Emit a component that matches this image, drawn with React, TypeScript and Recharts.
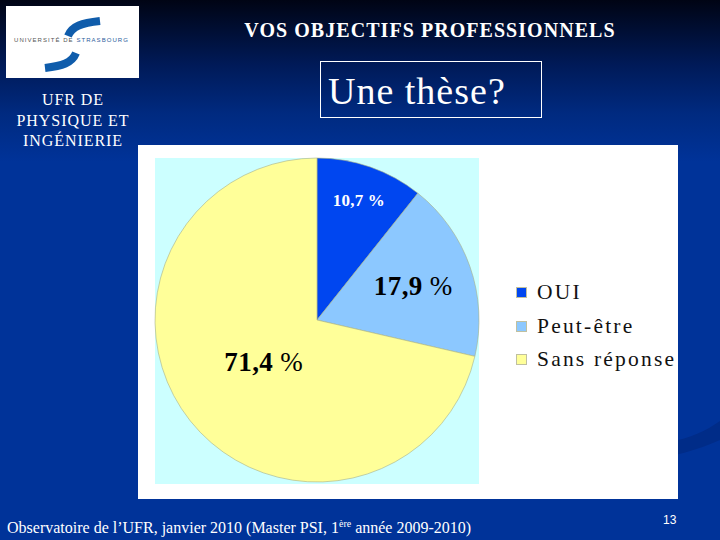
import { Legend, Pie, PieChart } from "recharts";

const categories = ["OUI", "Peut-être", "Sans réponse"];
const shares = [10.7, 17.9, 71.4];
const shareLabels = ["10,7", "17,9", "71,4"];
const sliceColors = ["#0046f0", "#8cc8ff", "#ffff99"];

const labelRadius = [127, 102, 68];
const labelSize = [17, 27, 27];
const labelColor = ["#fff", "#000", "#000"];

const data = categories.map((name, i) => ({ name, value: shares[i], fill: sliceColors[i] }));

const serif = "'Liberation Serif', serif";

function renderLabel(props: any) {
  const { cx, cy, midAngle, index } = props;
  const r = labelRadius[index];
  const a = (-midAngle * Math.PI) / 180;
  return (
    <text
      x={cx + r * Math.cos(a)}
      y={cy + r * Math.sin(a)}
      textAnchor="middle"
      dominantBaseline="central"
      fontFamily={serif}
      fontSize={labelSize[index]}
      letterSpacing={index === 0 ? 0.2 : 0.4}
      fill={labelColor[index]}
    >
      <tspan fontWeight="bold">{shareLabels[index]}</tspan>
      <tspan fontWeight={index === 0 ? "bold" : "normal"}> %</tspan>
    </text>
  );
}

function LegendBox() {
  return (
    <div style={{ fontFamily: serif, fontSize: 21.5, color: "#111", letterSpacing: 2.2 }}>
      {data.map((d) => (
        <div key={d.name} style={{ display: "flex", alignItems: "center", height: 33.5, whiteSpace: "nowrap" }}>
          <span
            style={{
              width: 11,
              height: 11,
              background: d.fill,
              border: "1px solid #c0c0a0",
              boxSizing: "border-box",
              marginRight: 10,
            }}
          />
          {d.name}
        </div>
      ))}
    </div>
  );
}

function Logo() {
  return (
    <svg width={133} height={72} style={{ position: "absolute", left: 6, top: 6, background: "#fff" }}>
      <path d="M62 30 C66 20 76 17 94 15" fill="none" stroke="#0f5cab" strokeWidth={8} />
      <path d="M70 47 C66 57 56 60 39 62" fill="none" stroke="#0f5cab" strokeWidth={8} />
      <text x={8} y={36} fontFamily="'Liberation Sans', sans-serif" fontSize={6} letterSpacing={1.05} fill="#555">
        UNIVERSITÉ DE <tspan fill="#2a5c9c">STRASBOURG</tspan>
      </text>
    </svg>
  );
}

export default function App() {
  return (
    <div
      style={{
        position: "absolute",
        left: 0,
        top: 0,
        width: 720,
        height: 540,
        overflow: "hidden",
        fontFamily: serif,
        color: "#fff",
        background: "linear-gradient(180deg, #000414 0%, #001a58 12%, #002a80 21%, #003399 30%, #003399 100%)",
      }}
    >
      <svg width={720} height={540} style={{ position: "absolute", left: 0, top: 0 }}>
        <path d="M670 442 C690 438 706 431 720 421 L720 440 C706 446 690 452 670 456 Z" fill="#002c88" />
      </svg>
      <Logo />
      <div
        style={{
          position: "absolute",
          left: 180,
          width: 500,
          top: 19,
          textAlign: "center",
          fontSize: 20,
          fontWeight: "bold",
          letterSpacing: 1.05,
          whiteSpace: "nowrap",
        }}
      >
        VOS OBJECTIFS PROFESSIONNELS
      </div>
      <div
        style={{
          position: "absolute",
          left: 320,
          top: 61,
          width: 222,
          height: 57,
          border: "1px solid #fff",
          fontSize: 38,
          lineHeight: "58px",
          paddingLeft: 7,
          boxSizing: "border-box",
          letterSpacing: 1,
          whiteSpace: "nowrap",
        }}
      >
        Une thèse?
      </div>
      <div
        style={{
          position: "absolute",
          left: 0,
          width: 146,
          top: 90,
          textAlign: "center",
          fontSize: 16,
          lineHeight: "20.5px",
          letterSpacing: 0.95,
        }}
      >
        UFR DE
        <br />
        PHYSIQUE ET
        <br />
        INGÉNIERIE
      </div>

      <div style={{ position: "absolute", left: 138, top: 145, width: 540, height: 354, background: "#fff" }} />
      <div style={{ position: "absolute", left: 155, top: 158, width: 324, height: 326, background: "#ccffff" }} />

      <div style={{ position: "absolute", left: 0, top: 0 }}>
        <PieChart width={720} height={540} margin={{ top: 0, right: 0, bottom: 0, left: 0 }}>
          <Pie
            data={data}
            dataKey="value"
            nameKey="name"
            cx={317}
            cy={320}
            outerRadius={162}
            startAngle={90}
            endAngle={-270}
            stroke="#a8b088"
            strokeWidth={0.6}
            label={renderLabel}
            labelLine={false}
            isAnimationActive={false}
          />
          <Legend
            layout="vertical"
            content={<LegendBox />}
            wrapperStyle={{ left: 516, top: 276, width: 170, bottom: "auto", right: "auto" }}
          />
        </PieChart>
      </div>

      <div style={{ position: "absolute", left: 7, top: 519, fontSize: 16, whiteSpace: "nowrap" }}>
        Observatoire de l’UFR, janvier 2010 (Master PSI, 1<sup style={{ fontSize: 10, lineHeight: 0 }}>ère</sup> année
        2009-2010)
      </div>
      <div
        style={{
          position: "absolute",
          left: 663,
          top: 513,
          fontFamily: "'Liberation Sans', sans-serif",
          fontSize: 12,
        }}
      >
        13
      </div>
    </div>
  );
}
